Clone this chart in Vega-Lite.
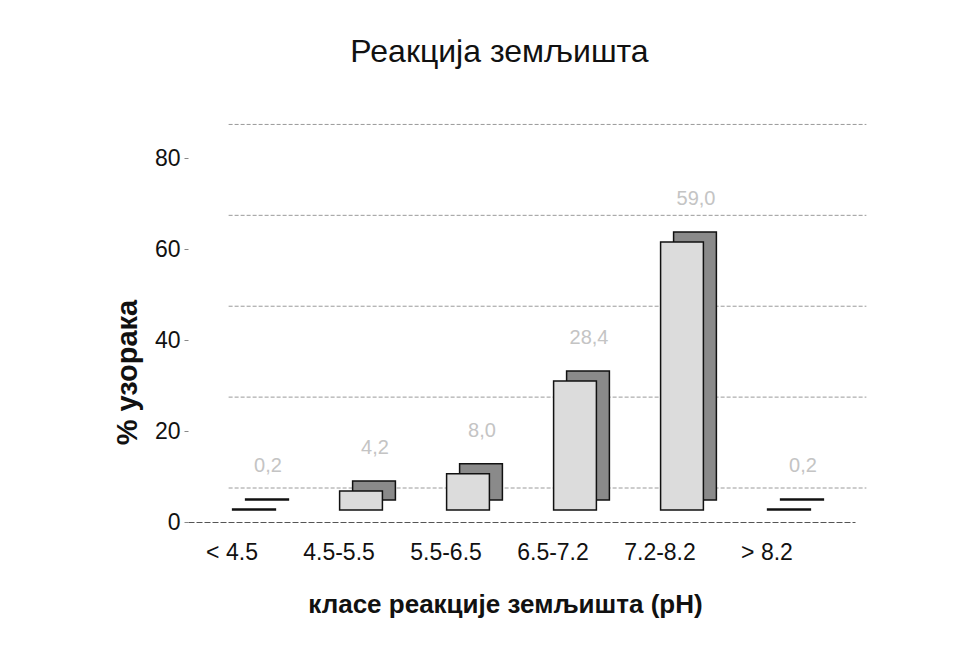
{
  "$schema": "https://vega.github.io/schema/vega-lite/v6.json",
  "width": 667,
  "height": 409,
  "autosize": "none",
  "padding": {"left": 188, "top": 113, "right": 114, "bottom": 146},
  "background": "white",
  "config": {"font": "Liberation Sans", "view": {"stroke": null}},
  "title": {"text": "Реакција земљишта", "fontSize": 32, "fontWeight": "normal", "font": "Liberation Sans", "color": "#111", "anchor": "middle", "offset": 44, "dx": -22},
  "datasets": {
    "bars": [
      {"class": "< 4.5", "pct": 0.2, "label": "0,2"},
      {"class": "4.5-5.5", "pct": 4.2, "label": "4,2"},
      {"class": "5.5-6.5", "pct": 8.0, "label": "8,0"},
      {"class": "6.5-7.2", "pct": 28.4, "label": "28,4"},
      {"class": "7.2-8.2", "pct": 59.0, "label": "59,0"},
      {"class": "> 8.2", "pct": 0.2, "label": "0,2"}
    ],
    "grid": [{"pct": 0}, {"pct": 20}, {"pct": 40}, {"pct": 60}, {"pct": 80}]
  },
  "resolve": {"axis": {"x": "independent", "y": "independent"}},
  "layer": [
    {
      "data": {"name": "grid"},
      "mark": {"type": "rule", "color": "#9a9a9a", "strokeDash": [4, 2], "strokeWidth": 1, "xOffset": -4, "x2Offset": 56, "yOffset": -34},
      "encoding": {
        "x": {"datum": "< 4.5", "type": "nominal", "bandPosition": 0, "axis": null},
        "x2": {"datum": "> 8.2", "bandPosition": 1},
        "y": {"field": "pct", "type": "quantitative", "axis": null}
      }
    },
    {
      "data": {"name": "bars"},
      "mark": {"type": "bar", "fill": "#8a8a8a", "stroke": "#111", "strokeWidth": 1.5, "xOffset": 13, "yOffset": -22, "y2Offset": -22},
      "encoding": {
        "x": {"field": "class", "type": "nominal", "sort": null, "scale": {"domain": ["< 4.5", "4.5-5.5", "5.5-6.5", "6.5-7.2", "7.2-8.2", "> 8.2"], "paddingInner": 0.6, "paddingOuter": 0.417},
              "axis": {"title": "класе реакције земљишта (pH)", "labelAngle": 0, "labelFontSize": 23, "labelColor": "#111", "labelOffset": -22, "labelPadding": 19, "ticks": false, "domain": true, "domainColor": "#555", "domainDash": [6, 2], "titleFontSize": 26, "titleFontWeight": "bold", "titleColor": "#111", "titlePadding": 27, "titleX": 317}},
        "y": {"field": "pct", "type": "quantitative", "scale": {"domain": [0, 90]}, "axis": {"title": "% узорака", "values": [0, 20, 40, 60, 80], "grid": false, "domain": false, "tickSize": 4, "tickColor": "#888", "labelFontSize": 23, "labelColor": "#111", "labelPadding": 4, "titleFontSize": 29, "titleFontWeight": "bold", "titleColor": "#111", "titlePadding": 12, "titleY": 259}}
      }
    },
    {
      "data": {"name": "bars"},
      "mark": {"type": "bar", "fill": "#dcdcdc", "stroke": "#111", "strokeWidth": 1.5, "yOffset": -12, "y2Offset": -12},
      "encoding": {
        "x": {"field": "class", "type": "nominal", "sort": null, "axis": null},
        "y": {"field": "pct", "type": "quantitative", "axis": null}
      }
    },
    {
      "data": {"name": "bars"},
      "mark": {"type": "text", "fontSize": 20, "color": "#c4c4c4", "dy": -55, "xOffset": 14},
      "encoding": {
        "x": {"field": "class", "type": "nominal", "sort": null, "axis": null},
        "y": {"field": "pct", "type": "quantitative", "axis": null},
        "text": {"field": "label"}
      }
    }
  ]
}
